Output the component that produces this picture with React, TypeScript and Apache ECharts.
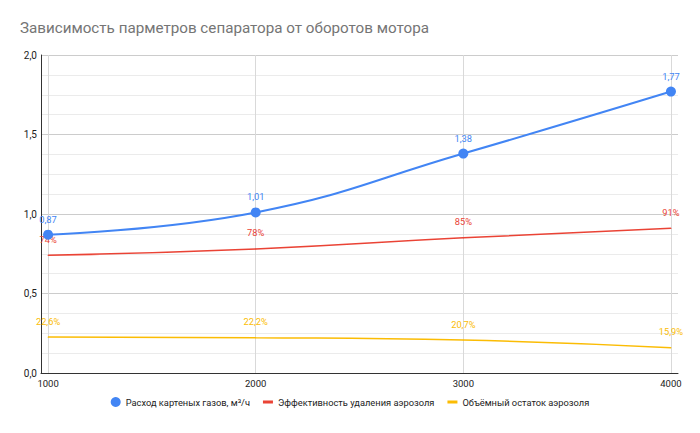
import React, { useEffect, useRef } from "react";
import * as echarts from "echarts";

const rpm = [1000, 2000, 3000, 4000];
const gasFlow = [0.87, 1.01, 1.38, 1.77];
const efficiency = [0.74, 0.78, 0.85, 0.91];
const residue = [0.226, 0.222, 0.207, 0.159];
const seriesNames = [
  "Расход картеных газов, м³/ч",
  "Эффективность удаления аэрозоля",
  "Объёмный остаток аэрозоля",
];
const titleText = "Зависимость парметров сепаратора от оборотов мотора";

const BLUE = "#4285F4";
const RED = "#EA4335";
const YELLOW = "#FBBC04";
const DASH_ICON = "path://M0,0h0.01v0.01h-0.01zM0,3.5h10v3h-10zM10,9.99h0.01v0.01h-0.01z";

const comma = (v: number, d: number) => v.toFixed(d).replace(".", ",");

export default function App() {
  const ref = useRef<HTMLDivElement>(null);
  useEffect(() => {
    if (!ref.current) return;
    const chart = echarts.init(ref.current, null, { renderer: "svg" });
    const font = "Roboto, Arial, sans-serif";
    chart.setOption({
      animation: false,
      backgroundColor: "#ffffff",
      textStyle: { fontFamily: font },
      title: {
        text: titleText,
        left: 15,
        top: 15,
        textStyle: { fontFamily: font, fontSize: 15.2, fontWeight: "normal", color: "#757575" },
      },
      legend: {
        bottom: 21,
        left: "center",
        itemWidth: 10,
        itemHeight: 10,
        itemGap: 13,
        textStyle: { fontFamily: font, fontSize: 9.3, color: "#222" },
        data: [
          { name: seriesNames[0], icon: "circle" },
          { name: seriesNames[1], icon: DASH_ICON },
          { name: seriesNames[2], icon: DASH_ICON },
        ],
      },
      grid: { left: 41, right: 22, top: 55, bottom: 60 },
      xAxis: {
        type: "value",
        min: 966,
        max: 4034,
        axisLine: { show: true, lineStyle: { color: "#333", width: 1 } },
        axisTick: { show: false, customValues: rpm },
        axisLabel: {
          customValues: rpm,
          color: "#222",
          fontSize: 9.5,
          margin: 5,
          formatter: (v: number) => String(v),
        },
        splitLine: { show: true, lineStyle: { color: "#d9d9d9", width: 1 } },
      },
      yAxis: {
        type: "value",
        min: 0,
        max: 2,
        interval: 0.5,
        axisLine: { show: true, lineStyle: { color: "#333", width: 1 } },
        axisTick: { show: false },
        axisLabel: { color: "#222", fontSize: 10, margin: 4, formatter: (v: number) => comma(v, 1) },
        splitLine: { show: true, lineStyle: { color: "#cccccc", width: 1 } },
        minorTick: { show: false, splitNumber: 4 },
        minorSplitLine: { show: true, lineStyle: { color: "#ebebeb", width: 1 } },
      },
      series: [
        {
          name: seriesNames[0],
          type: "line",
          smooth: 0.45,
          data: rpm.map((x, i) => [x, gasFlow[i]]),
          symbol: "circle",
          symbolSize: 10,
          itemStyle: { color: BLUE },
          lineStyle: { color: BLUE, width: 2 },
          label: {
            show: true,
            position: "top",
            distance: 6,
            color: BLUE,
            fontSize: 9.3,
            formatter: (p: any) => comma(p.value[1], 2),
          },
          z: 3,
        },
        {
          name: seriesNames[1],
          type: "line",
          smooth: true,
          data: rpm.map((x, i) => [x, efficiency[i]]),
          symbol: "circle",
          symbolSize: 1,
          itemStyle: { color: RED },
          lineStyle: { color: RED, width: 1.5 },
          label: {
            show: true,
            position: "top",
            distance: 11,
            color: RED,
            fontSize: 9.3,
            formatter: (p: any) => Math.round(p.value[1] * 100) + "%",
          },
          z: 2,
        },
        {
          name: seriesNames[2],
          type: "line",
          smooth: true,
          data: rpm.map((x, i) => [x, residue[i]]),
          symbol: "circle",
          symbolSize: 1,
          itemStyle: { color: YELLOW },
          lineStyle: { color: YELLOW, width: 1.5 },
          label: {
            show: true,
            position: "top",
            distance: 11,
            color: YELLOW,
            fontSize: 9.3,
            formatter: (p: any) => comma(p.value[1] * 100, 1) + "%",
          },
          z: 2,
        },
      ],
    });
    return () => chart.dispose();
  }, []);
  return (
    <div
      ref={ref}
      style={{ position: "fixed", left: 0, top: 0, width: 700, height: 433 }}
    />
  );
}
